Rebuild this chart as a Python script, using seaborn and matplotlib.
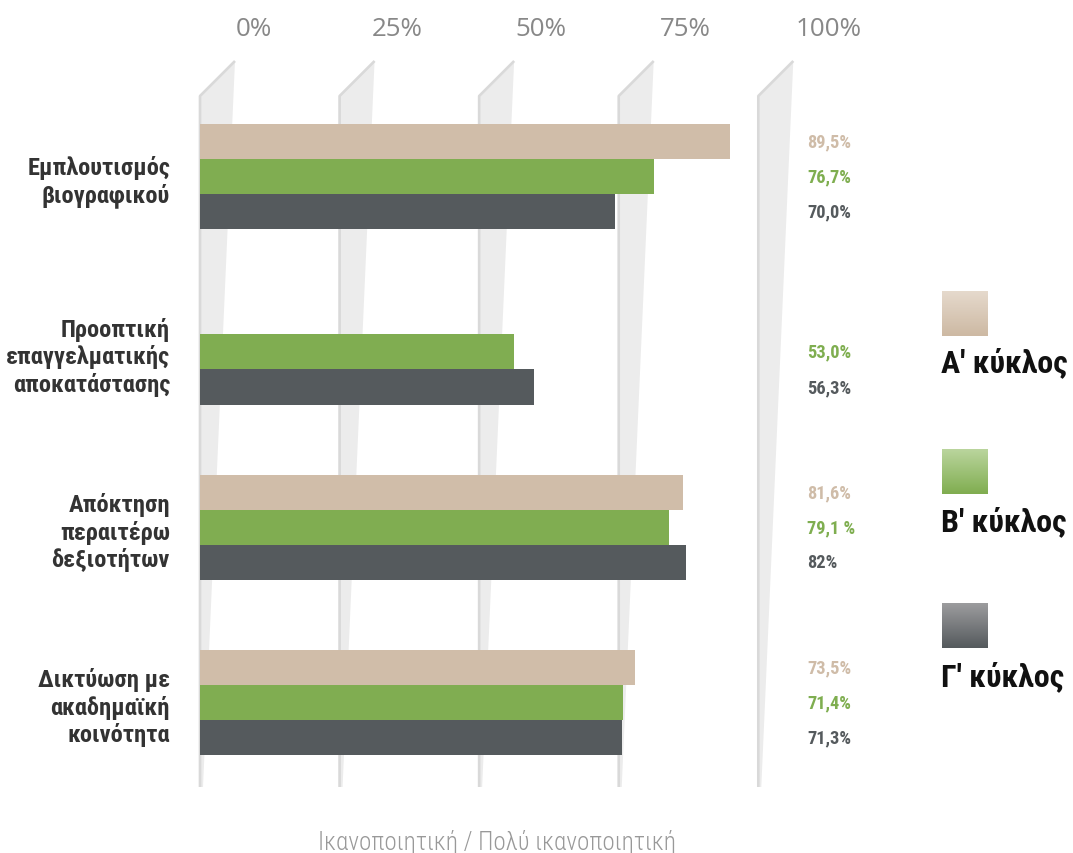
import numpy as np
import pandas as pd
import matplotlib
matplotlib.use("Agg")
import matplotlib.pyplot as plt
import matplotlib.transforms as mtransforms
from matplotlib.colors import LinearSegmentedColormap
import seaborn as sns

# ---------------- data ----------------
categories = [
    "Εμπλουτισμός\nβιογραφικού",
    "Προοπτική\nεπαγγελματικής\nαποκατάστασης",
    "Απόκτηση\nπεραιτέρω\nδεξιοτήτων",
    "Δικτύωση με\nακαδημαϊκή\nκοινότητα",
]
series = ["Α' κύκλος", "Β' κύκλος", "Γ' κύκλος"]
a_values = [89.5, np.nan, 81.6, 73.5]
b_values = [76.7, 53.0, 79.1, 71.4]
c_values = [70.0, 56.3, 82.0, 71.3]
a_labels = ["89,5%", "", "81,6%", "73,5%"]
b_labels = ["76,7%", "53,0%", "79,1 %", "71,4%"]
c_labels = ["70,0%", "56,3%", "82%", "71,3%"]
tick_values = [0, 25, 50, 75, 100]
tick_labels = ["0%", "25%", "50%", "75%", "100%"]
x_title = "Ικανοποιητική / Πολύ ικανοποιητική"

bar_colors = ["#d0bda9", "#80ad51", "#555a5d"]
label_colors = ["#cfbca8", "#7fae50", "#555a5d"]
legend_grads = [("#e6dacd", "#cdb9a3"), ("#bad59d", "#80ad50"), ("#9c9c9e", "#555a5d")]

rows = []
for s, vals in zip(series, [a_values, b_values, c_values]):
    for c, v in zip(categories, vals):
        if not np.isnan(v):
            rows.append({"cat": c, "series": s, "value": v})
df = pd.DataFrame(rows)
value_labels = {series[0]: a_labels, series[1]: b_labels, series[2]: c_labels}

# ---------------- layout ----------------
W, H, DPI = 1073, 854, 100
AX_LEFT, AX_RIGHT, AX_TOP, AX_BOTTOM = 200, 900, 62, 788
PX_PER_PCT = 5.925        # bar scale
PX_PER_PCT_GRID = 5.583   # decorative grid scale
GROUP_PX = 175.4
FIRST_CENTER_PX = 177.5

COND = ["Roboto Condensed", "Liberation Sans Narrow", "Roboto", "DejaVu Sans"]

sns.set_theme(style="white")
plt.rcParams["font.family"] = COND

fig = plt.figure(figsize=(W / DPI, H / DPI), dpi=DPI)
rect = [AX_LEFT / W, 1 - AX_BOTTOM / H, (AX_RIGHT - AX_LEFT) / W, (AX_BOTTOM - AX_TOP) / H]
ax_h_px = AX_BOTTOM - AX_TOP

# background grid axes
axg = fig.add_axes(rect)
axg.set_xlim(0, (AX_RIGHT - AX_LEFT) / PX_PER_PCT_GRID)
axg.set_ylim(0, 1)
axg.axis("off")
trans_g = mtransforms.blended_transform_factory(axg.transData, axg.transAxes)
slant_dx = 35 / PX_PER_PCT_GRID
foot_dx = 3 / PX_PER_PCT_GRID
knee_y = (AX_BOTTOM - 97) / ax_h_px
for g in tick_values:
    poly = plt.Polygon([(g, 0), (g + foot_dx, 0), (g + slant_dx, 1.0), (g, knee_y)],
                       closed=True, facecolor="#ececec", edgecolor="none",
                       transform=trans_g, clip_on=False, zorder=1)
    axg.add_patch(poly)
    axg.plot([g, g, g + slant_dx], [0, knee_y, 1.0], color="#d9d9d9", lw=1.9,
             transform=trans_g, clip_on=False, zorder=2, solid_capstyle="butt")

# top tick labels
for i, (g, t) in enumerate(zip(tick_values, tick_labels)):
    off = 53.8 + 4.1 * i
    tr = mtransforms.offset_copy(trans_g, fig=fig, x=off, y=0, units="dots")
    axg.text(g, (AX_BOTTOM - 29.5) / ax_h_px, t, transform=tr, ha="center", va="center",
             fontsize=18.7, color="#888888", family=["Open Sans", "DejaVu Sans"], clip_on=False)

# bar axes
ax = fig.add_axes(rect)
ax.patch.set_alpha(0)
sns.barplot(data=df, y="cat", x="value", hue="series", order=categories, hue_order=series,
            palette=bar_colors, orient="h", width=0.6, saturation=1, linewidth=0,
            legend=False, ax=ax)
ax.set_xlim(0, (AX_RIGHT - AX_LEFT) / PX_PER_PCT)
ax.set_ylim((AX_BOTTOM - FIRST_CENTER_PX) / GROUP_PX, (AX_TOP - FIRST_CENTER_PX) / GROUP_PX)
for sp in ax.spines.values():
    sp.set_visible(False)
ax.set_xlabel("")
ax.set_ylabel("")
ax.set_xticks([])
ax.tick_params(axis="y", length=0, pad=(AX_LEFT - 170) * 72 / DPI)
for lbl in ax.get_yticklabels():
    lbl.set_fontfamily(COND)
    lbl.set_fontweight("bold")
    lbl.set_fontsize(17.6)
    lbl.set_color("#333333")
    lbl.set_linespacing(1.18)

# value labels
label_x = (807 - AX_LEFT) / PX_PER_PCT
for s, cont, col in zip(series, ax.containers, label_colors):
    for bar in cont:
        yc = bar.get_y() + bar.get_height() / 2
        idx = int(round(yc))
        txt = value_labels[s][idx]
        ax.text(label_x, yc, txt, ha="left", va="center", fontsize=13.2,
                fontweight="bold", color=col, family=COND, clip_on=False)

# legend
sq_tops = [292, 450, 604]
lab_centers = [363, 521.7, 676.7]
for (c0, c1), top, lc, name in zip(legend_grads, sq_tops, lab_centers, series):
    lax = fig.add_axes([942 / W, 1 - (top + 45) / H, 46 / W, 45 / H])
    cmap = LinearSegmentedColormap.from_list("g", [c0, c1])
    lax.imshow(np.linspace(0, 1, 64).reshape(-1, 1), aspect="auto", cmap=cmap)
    lax.axis("off")
    fig.text(941 / W, 1 - lc / H, name, ha="left", va="center", fontsize=23,
             fontweight="bold", color="#111111", family=COND)

# bottom title
fig.text(496.6 / W, 1 - 843 / H, x_title, ha="center", va="center", fontsize=18,
         color="#999999", family=COND, fontweight="light")

fig.savefig("out.png", dpi=DPI)
